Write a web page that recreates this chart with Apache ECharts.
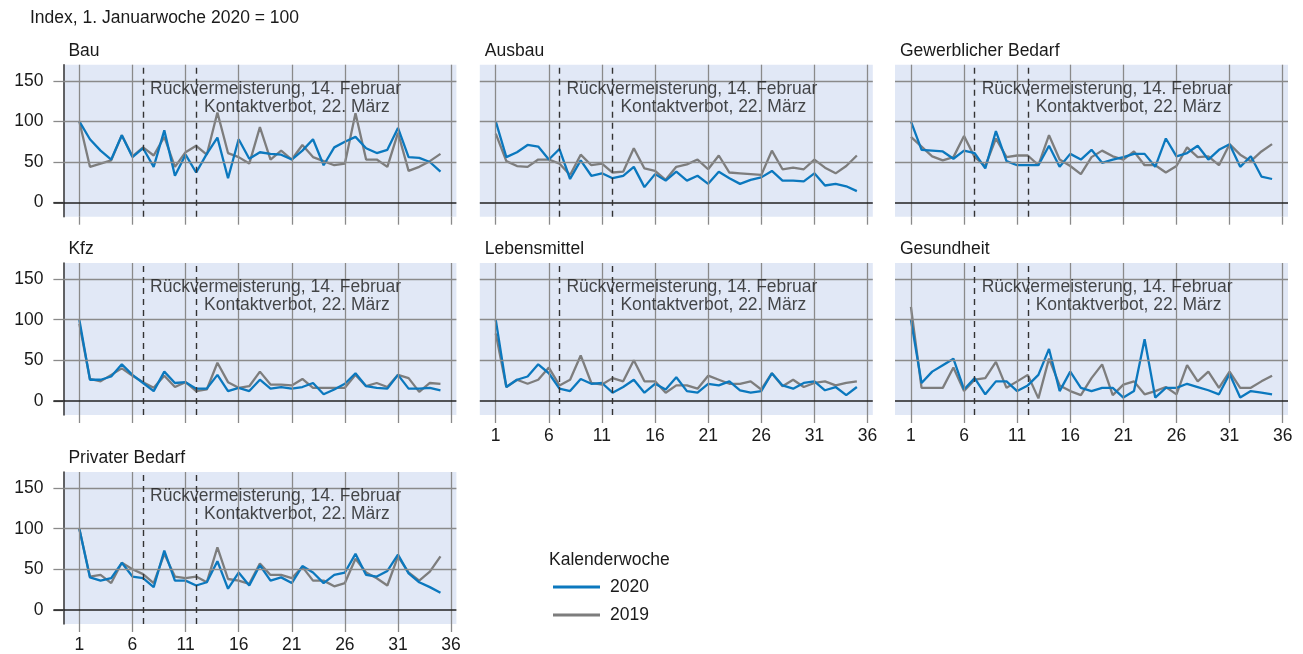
<!DOCTYPE html>
<html><head><meta charset="utf-8">
<script src="https://cdn.jsdelivr.net/npm/echarts@6/dist/echarts.min.js"></script>
<style>html,body{margin:0;padding:0;background:#fff}#c{width:1303px;height:654px}</style>
</head><body><div id="c"></div>
<script>
// ---------- data ----------
const weeks = [1,2,3,4,5,6,7,8,9,10,11,12,13,14,15,16,17,18,19,20,21,22,23,24,25,26,27,28,29,30,31,32,33,34,35];
const xTickLabels = [1,6,11,16,21,26,31,36];
const yTickLabels = [0,50,100,150];
const panelTitles = ['Bau','Ausbau','Gewerblicher Bedarf','Kfz','Lebensmittel','Gesundheit','Privater Bedarf'];
const seriesNames = ['2020','2019'];
const eventWeeks = [7,12];
const eventLabels = ['Rückvermeisterung, 14. Februar','Kontaktverbot, 22. März'];

const bau2020 = [100,78,64,53,83,56,67,44,89,33,59,37,60,80,30,78,54,62,60,59,53,64,78,46,68,75,81,67,61,65,92,56,55,50,38];
const bau2019 = [100,44,48,52,83,57,68,58,81,44,62,70,59,111,61,56,48,93,53,64,53,71,56,51,46,48,110,53,53,44,86,39,44,51,60];
const ausbau2020 = [100,56,62,71,69,53,66,29,52,33,36,30,33,44,19,35,27,38,27,33,23,38,30,23,28,31,39,27,27,26,36,21,23,20,14];
const ausbau2019 = [85,51,45,44,53,53,48,34,59,46,48,37,38,67,42,39,28,44,47,53,41,58,37,36,35,34,64,41,43,41,53,43,36,45,58];
const gewerb2020 = [100,65,64,63,54,64,61,42,88,51,46,46,46,70,44,60,53,65,49,53,56,60,60,44,79,57,61,70,53,65,72,44,57,32,29];
const gewerb2019 = [81,69,57,52,56,82,56,45,79,56,58,58,46,83,53,45,35,56,64,57,53,63,46,46,37,45,68,56,57,46,72,59,51,63,72];
const kfz2020 = [100,26,26,30,45,32,22,12,36,22,23,15,15,32,12,16,12,26,15,17,15,17,22,8,14,21,34,18,16,15,32,15,15,16,13];
const kfz2019 = [95,27,24,32,40,31,23,16,31,17,23,12,14,47,23,16,18,36,20,20,19,27,16,16,16,16,32,18,22,17,32,28,11,22,21];
const lebens2020 = [100,17,26,30,45,34,15,12,27,21,22,10,17,26,10,21,14,29,12,10,21,19,24,13,10,12,34,19,15,22,24,13,17,7,17];
const lebens2019 = [83,17,26,21,26,41,19,26,56,22,20,28,24,50,24,24,10,19,19,15,31,26,21,21,24,14,34,18,26,17,22,24,19,22,24];
const gesund2020 = [100,22,36,44,52,14,28,8,24,24,12,19,32,64,12,36,16,12,16,16,4,12,76,4,16,16,21,17,13,8,33,4,12,10,8];
const gesund2019 = [116,16,16,16,41,12,26,28,48,16,24,32,3,52,19,12,7,28,45,7,20,24,8,12,17,8,44,24,36,16,36,16,16,24,31];
const privat2020 = [100,40,36,39,58,41,39,28,73,36,36,30,34,60,26,46,30,55,36,40,33,54,46,33,43,46,69,43,41,48,68,45,34,28,21];
const privat2019 = [100,41,43,33,58,50,44,33,69,41,39,41,34,77,38,36,32,57,43,43,39,53,36,36,29,33,63,46,39,30,66,46,36,47,66];

const panelData = [
  [bau2020, bau2019],
  [ausbau2020, ausbau2019],
  [gewerb2020, gewerb2019],
  [kfz2020, kfz2019],
  [lebens2020, lebens2019],
  [gesund2020, gesund2019],
  [privat2020, privat2019]
];

// ---------- layout / style ----------
const FONT = '"Liberation Sans", Arial, sans-serif';
const FS = 17.5;
const TXT = '#1a1a1a';
const BLUE = '#0b78be';
const GREY = '#7d7d7d';
const GRIDC = '#8a8a8a';
const BG = '#e1e8f6';
const colLeft = [63.4, 479.8, 895];
const rowTop = [64.7, 263, 472];
const gW = 393, gH = 152;
const yMin = -17.5, yMax = 170, xMin = -0.5, xMax = 36.5;
const pos = [[0,0],[1,0],[2,0],[0,1],[1,1],[2,1],[0,2]];
const showX = [false,false,false,false,true,true,true];
const showY = [true,false,false,true,false,false,true];
const annot = [[7.66, 140],[12.74, 118]];

const grids = [], xAxes = [], yAxes = [], series = [], graphics = [];
graphics.push({type:'text', left:30, top:9, style:{text:'Index, 1. Januarwoche 2020 = 100', font:FS+'px '+FONT, fill:TXT}});
graphics.push({type:'text', left:549, top:551, style:{text:'Kalenderwoche', font:FS+'px '+FONT, fill:TXT}});

panelTitles.forEach((t, i) => {
  const [c, r] = pos[i];
  grids.push({left: colLeft[c], top: rowTop[r], width: gW, height: gH, show: true, backgroundColor: BG, borderWidth: 0, containLabel: false});
  graphics.push({type:'text', left: colLeft[c] + 5, top: rowTop[r] - 22.5, style:{text: t, font:FS+'px '+FONT, fill:TXT}});
  xAxes.push({
    type:'value', gridIndex:i, min:xMin, max:xMax, position:'bottom',
    axisLine:{show:false, onZero:false}, splitLine:{show:false},
    axisTick:{show:true, customValues:xTickLabels, length:8, lineStyle:{color:GRIDC, width:1.3}},
    axisLabel:{show:showX[i], customValues:xTickLabels, margin:12, fontSize:FS, color:TXT, fontFamily:FONT}
  });
  const yIdx = yAxes.length;
  yAxes.push({
    type:'value', gridIndex:i, min:yMin, max:yMax, position:'left',
    axisLine:{show:showY[i], onZero:false, lineStyle:{color:'#333', width:1.5}},
    axisTick:{show:showY[i], customValues:yTickLabels, length:10, lineStyle:{color:GRIDC, width:1.3}},
    splitLine:{show:false},
    axisLabel:{show:showY[i], customValues:yTickLabels, margin:20, fontSize:FS, color:TXT, fontFamily:FONT}
  });
  if (showY[i]) {
    // dark tick for the zero line
    yAxes.push({
      type:'value', gridIndex:i, min:yMin, max:yMax, position:'left', offset:0,
      axisLine:{show:false, onZero:false}, splitLine:{show:false}, axisLabel:{show:false},
      axisTick:{show:true, customValues:[0], length:10, lineStyle:{color:'#222', width:1.6}}
    });
  }
  // grid lines + event lines
  const ml = [];
  xTickLabels.forEach(v => ml.push({xAxis:v, lineStyle:{color:GRIDC, width:1.3, type:'solid'}}));
  yTickLabels.forEach(v => ml.push({yAxis:v, lineStyle:{color: v===0 ? '#222' : GRIDC, width: v===0 ? 1.6 : 1.3, type:'solid'}}));
  eventWeeks.forEach(v => ml.push({xAxis:v, lineStyle:{color:'#333', width:1.4, type:[6,5]}}));
  series.push({
    type:'line', name:'grid'+i, xAxisIndex:i, yAxisIndex:yIdx, data:[], silent:true, z:1,
    markLine:{silent:true, symbol:['none','none'], label:{show:false}, animation:false, data: ml}
  });
  // data series (2019 under 2020)
  [1,0].forEach(k => {
    series.push({
      type:'line', name:seriesNames[k], xAxisIndex:i, yAxisIndex:yIdx, z:3+ (k===0?1:0),
      showSymbol:false, symbol:'none', animation:false,
      lineStyle:{color: k===0 ? BLUE : GREY, width:2.3},
      itemStyle:{color: k===0 ? BLUE : GREY},
      data: weeks.map((w, j) => [w, panelData[i][k][j]])
    });
  });
  // annotations
  series.push({
    type:'scatter', name:'annot'+i, xAxisIndex:i, yAxisIndex:yIdx, symbolSize:0, silent:true, z:5, animation:false,
    label:{show:true, position:[0,0], align:'left', verticalAlign:'middle', fontSize:FS, color:TXT, fontFamily:FONT,
      formatter: p => eventLabels[p.dataIndex]},
    data: annot.map(a => a.slice())
  });
});

const chart = echarts.init(document.getElementById('c'), null, {renderer:'canvas'});
chart.setOption({
  animation:false,
  textStyle:{fontFamily:FONT},
  grid: grids, xAxis: xAxes, yAxis: yAxes, series: series, graphic: graphics,
  legend:{data: seriesNames, orient:'vertical', left:553, top:578, padding:0, itemWidth:47, itemHeight:3, itemGap:10,
    icon:'rect', textStyle:{fontSize:FS, color:TXT, fontFamily:FONT, padding:[0,0,0,5]}, selectedMode:false}
});
</script></body></html>
